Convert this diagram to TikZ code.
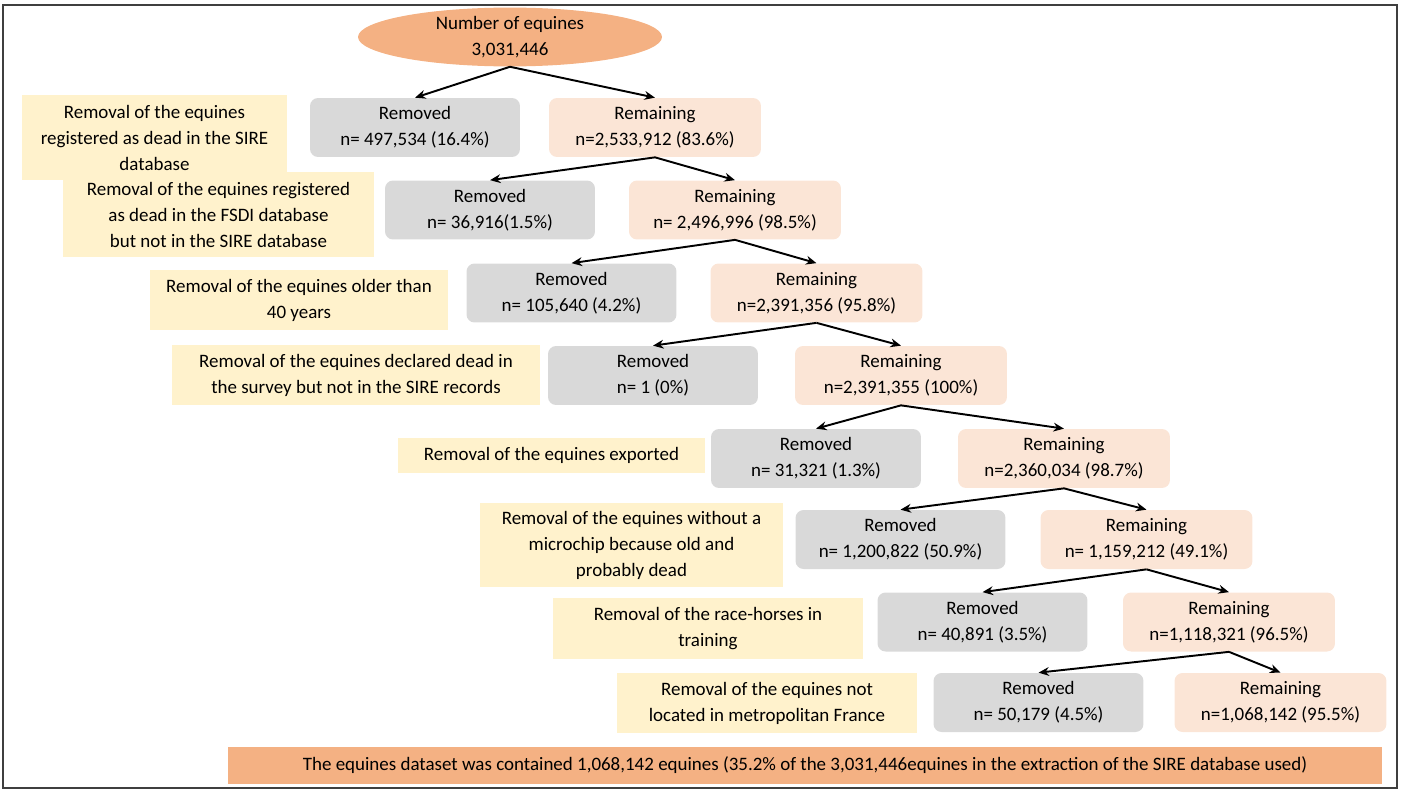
\documentclass[tikz,border=0pt]{standalone}
\usepackage{fontspec}
\setmainfont{Carlito}
\usetikzlibrary{arrows.meta,shapes.geometric}
\definecolor{salmon}{HTML}{F4B183}
\definecolor{peach}{HTML}{FBE5D6}
\definecolor{greybox}{HTML}{D9D9D9}
\definecolor{paleyellow}{HTML}{FFF2CC}
\definecolor{framegrey}{HTML}{3F3F3F}
\tikzset{
  every node/.style={font=\fontsize{10.8pt}{14.8pt}\selectfont, align=center, inner sep=0pt},
  totalnode/.style={ellipse, fill=salmon, minimum width=6.08cm, minimum height=1.16cm},
  removedbox/.style={fill=greybox, rounded corners=0.16cm, minimum width=4.2cm, minimum height=1.18cm},
  remainbox/.style={fill=peach, rounded corners=0.16cm, minimum width=4.24cm, minimum height=1.18cm},
  reasonbox/.style={fill=paleyellow, minimum width=#1},
  summarybox/.style={fill=salmon, minimum width=23.08cm, minimum height=0.74cm},
  flow/.style={-{Stealth[length=6pt,width=5pt]}, line width=1.1pt}
}
\begin{document}
\begin{tikzpicture}[x=0.02cm,y=-0.02cm]
      \useasboundingbox (0,0) rectangle (1403,791);
      \draw[framegrey, line width=1.1pt] (3,5) rectangle (1397,788);
      \draw
        (154.5,137.5) node[reasonbox=5.3cm, minimum height=1.7cm] (y1){Removal of the equines\\registered as dead in the SIRE\\database}
        (218.5,214.5) node[reasonbox=6.22cm, minimum height=1.7cm] (y2){Removal of the equines registered\\as dead in the FSDI database\\but not in the SIRE database}
        (299,300) node[reasonbox=5.96cm, minimum height=1.2cm] (y3){Removal of the equines older than\\40 years}
        (356,375) node[reasonbox=7.36cm, minimum height=1.2cm] (y4){Removal of the equines declared dead in\\the survey but not in the SIRE records}
        (551.5,455.5) node[reasonbox=6.14cm, minimum height=0.7cm] (y5){Removal of the equines exported}
        (631.5,545) node[reasonbox=6.06cm, minimum height=1.68cm] (y6){Removal of the equines without a\\microchip because old and\\probably dead}
        (708,628.5) node[reasonbox=6.2cm, minimum height=1.22cm] (y7){Removal of the race-horses in\\training}
        (767,703) node[reasonbox=6cm, minimum height=1.2cm] (y8){Removal of the equines not\\located in metropolitan France};
      \draw
        (510,37) node[totalnode] (t){Number of equines\\3,031,446}
        (415,127.5) node[removedbox] (d1){Removed\\n= 497,534 (16.4\%)}
        (655,127.5) node[remainbox] (k1){Remaining\\n=2,533,912 (83.6\%)}
        (490,210) node[removedbox] (d2){Removed\\n= 36,916(1.5\%)}
        (735,210) node[remainbox] (k2){Remaining\\n= 2,496,996 (98.5\%)}
        (571.5,293) node[removedbox] (d3){Removed\\n= 105,640 (4.2\%)}
        (816.5,293) node[remainbox] (k3){Remaining\\n=2,391,356 (95.8\%)}
        (653,375.5) node[removedbox] (d4){Removed\\n= 1 (0\%)}
        (901,375.5) node[remainbox] (k4){Remaining\\n=2,391,355 (100\%)}
        (816,458.5) node[removedbox] (d5){Removed\\n= 31,321 (1.3\%)}
        (1064,458.5) node[remainbox] (k5){Remaining\\n=2,360,034 (98.7\%)}
        (900.5,539.5) node[removedbox] (d6){Removed\\n= 1,200,822 (50.9\%)}
        (1146.5,539.5) node[remainbox] (k6){Remaining\\n= 1,159,212 (49.1\%)}
        (982.5,622) node[removedbox] (d7){Removed\\n= 40,891 (3.5\%)}
        (1229,622) node[remainbox] (k7){Remaining\\n=1,118,321 (96.5\%)}
        (1038.5,702.5) node[removedbox] (d8){Removed\\n= 50,179 (4.5\%)}
        (1280.5,702.5) node[remainbox] (k8){Remaining\\n=1,068,142 (95.5\%)}
        (805,765.5) node[summarybox] (s){The equines dataset was contained 1,068,142 equines (35.2\% of the 3,031,446equines in the extraction of the SIRE database used)};
      \begin{scope}[flow]
        \draw (t.south) to (d1.north);
        \draw (t.south) to (k1.north);
        \draw (k1.south) to (d2.north);
        \draw (k1.south) to (k2.north);
        \draw (k2.south) to (d3.north);
        \draw (k2.south) to (k3.north);
        \draw (k3.south) to (d4.north);
        \draw (k3.south) to (k4.north);
        \draw (k4.south) to (d5.north);
        \draw (k4.south) to (k5.north);
        \draw (k5.south) to (d6.north);
        \draw (k5.south) to (k6.north);
        \draw (k6.south) to (d7.north);
        \draw (k6.south) to (k7.north);
        \draw (k7.south) to (d8.north);
        \draw (k7.south) to (k8.north);
      \end{scope}
    \end{tikzpicture}
\end{document}
